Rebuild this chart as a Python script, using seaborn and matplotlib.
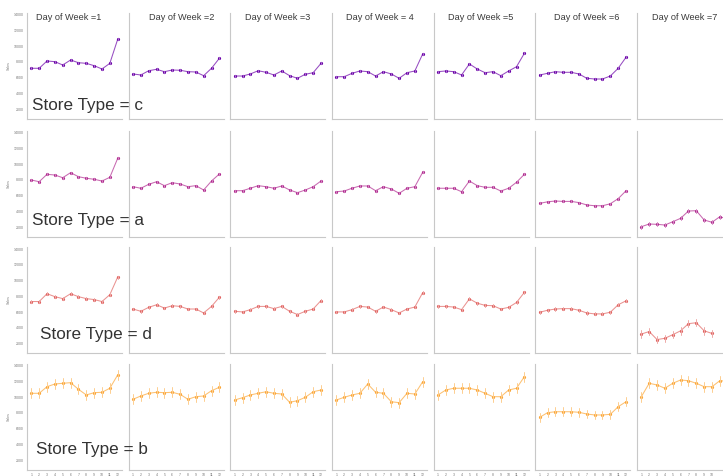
import numpy as np
import pandas as pd
import matplotlib
matplotlib.use("Agg")
import matplotlib.pyplot as plt
import seaborn as sns

# ---- data: mean monthly sales by store type (rows) and day of week (columns) ----
months = list(range(1, 13))
days = [1, 2, 3, 4, 5, 6, 7]
store_types = ["c", "a", "d", "b"]
nan = np.nan

c1 = [7170, 7170, 8100, 8010, 7590, 8220, 7880, 7800, 7500, 7080, 7800, 10850]
c2 = [6450, 6320, 6860, 7040, 6740, 6950, 6920, 6740, 6700, 6230, 7170, 8440]
c3 = [6190, 6190, 6450, 6860, 6660, 6320, 6830, 6230, 5900, 6410, 6610, 7800]
c4 = [6100, 6100, 6530, 6830, 6740, 6190, 6740, 6450, 5900, 6610, 6830, 8990]
c5 = [6740, 6830, 6740, 6320, 7720, 7080, 6610, 6740, 6230, 6830, 7370, 9070]
c6 = [6320, 6530, 6740, 6660, 6660, 6450, 5900, 5810, 5810, 6190, 7170, 8570]
c7 = [nan] * 12

a1 = [7970, 7750, 8690, 8600, 8260, 8900, 8390, 8190, 8060, 7840, 8310, 10720]
a2 = [7120, 6920, 7420, 7750, 7250, 7630, 7460, 7120, 7250, 6700, 7840, 8730]
a3 = [6610, 6610, 6920, 7250, 7120, 6920, 7210, 6700, 6360, 6700, 7120, 7840]
a4 = [6480, 6570, 6920, 7210, 7210, 6610, 7120, 6830, 6280, 6920, 7120, 8950]
a5 = [6920, 6920, 6920, 6480, 7840, 7250, 7040, 7040, 6570, 6920, 7680, 8690]
a6 = [5000, 5200, 5300, 5250, 5250, 5100, 4800, 4700, 4700, 4950, 5600, 6600]
a7 = [2040, 2380, 2340, 2250, 2670, 3100, 4030, 4070, 2890, 2600, 3310, 3000]

d1 = [7330, 7330, 8320, 7950, 7700, 8320, 7950, 7700, 7580, 7330, 8200, 10430]
d2 = [6380, 6090, 6590, 6920, 6500, 6800, 6710, 6380, 6380, 5880, 6710, 7870]
d3 = [6090, 6010, 6300, 6710, 6710, 6430, 6710, 6090, 5680, 6090, 6380, 7460]
d4 = [6010, 6010, 6300, 6710, 6630, 6090, 6630, 6300, 5880, 6380, 6630, 8450]
d5 = [6710, 6710, 6630, 6300, 7670, 7120, 6840, 6800, 6380, 6590, 7210, 8490]
d6 = [5970, 6220, 6380, 6430, 6430, 6220, 5880, 5760, 5760, 5970, 6920, 7420]
d7 = [3200, 3520, 2500, 2660, 3120, 3610, 4520, 4640, 3610, 3280, nan, nan]

b1 = [10470, 10470, 11310, 11650, 11740, 11820, 10980, 10260, 10550, 10600, 11110, 12800]
b2 = [9710, 10130, 10470, 10600, 10550, 10600, 10340, 9710, 10040, 10130, 10800, 11230]
b3 = [9620, 9910, 10260, 10470, 10670, 10470, 10380, 9330, 9530, 9960, 10670, 10890]
b4 = [9620, 9960, 10260, 10470, 11650, 10600, 10470, 9400, 9280, 10470, 10380, 11940]
b5 = [10260, 10890, 11110, 11110, 11110, 10890, 10470, 10040, 10040, 10890, 11110, 12580]
b6 = [7420, 8010, 8130, 8130, 8130, 8060, 7840, 7720, 7720, 7800, 8770, 9400]
b7 = [10040, 11740, 11530, 11110, 11740, 12160, 12070, 11740, 11310, 11310, 12070, 12000]

# half-width of the error bar on each monthly mean, per day of week
err_c = [120, 120, 120, 120, 120, 120, 0]
err_a = [110, 110, 110, 110, 110, 130, 260]
err_d = [200, 180, 180, 180, 180, 200, 480]
err_b = [650, 620, 620, 650, 650, 560, 620]

y_ticks = [2000, 4000, 6000, 8000, 10000, 12000, 14000]

series = {
    "c": ([c1, c2, c3, c4, c5, c6, c7], err_c),
    "a": ([a1, a2, a3, a4, a5, a6, a7], err_a),
    "d": ([d1, d2, d3, d4, d5, d6, d7], err_d),
    "b": ([b1, b2, b3, b4, b5, b6, b7], err_b),
}

# long-form table: each monthly mean is represented by its lower and upper bound
rows = []
for st, (vals, errs) in series.items():
    for day, v, e in zip(days, vals, errs):
        for m, s in zip(months, v):
            if np.isnan(s):
                continue
            rows.append((st, day, m, s - e))
            rows.append((st, day, m, s + e))
df = pd.DataFrame(rows, columns=["StoreType", "DayOfWeek", "Month", "Sales"])

# ---- figure ----
sns.set_theme(style="white")
plt.rcParams["font.family"] = ["Liberation Sans", "DejaVu Sans"]

W, H = 723, 476
fig = plt.figure(figsize=(W / 100, H / 100), dpi=100)
palette = sns.color_palette("plasma", 4)


def lighten(rgb, amount):
    return tuple(ch + (1 - ch) * amount for ch in rgb)


col_left = [27 + i * 101.67 for i in range(7)]
row_bottom = [118.5, 236.5, 353.0, 469.5]
ax_w, ax_h = 95, 106
label_baseline = [110, 225.5, 339, 454]
label_x = [32, 32, 40, 36]
title_dx = [-6, 6, 0, 0, 0, 4, 0]

for r, st in enumerate(store_types):
    dark = palette[r]
    line_col = lighten(dark, 0.3)
    for c, day in enumerate(days):
        ax = fig.add_axes([col_left[c] / W, 1 - row_bottom[r] / H, ax_w / W, ax_h / H])
        sub = df[(df.StoreType == st) & (df.DayOfWeek == day)]
        if len(sub):
            sns.lineplot(
                data=sub, x="Month", y="Sales", ax=ax, color=line_col,
                estimator="mean", errorbar=("pi", 100), err_style="bars",
                marker="o", markersize=2.3, markeredgewidth=0,
                markerfacecolor=dark,
                linewidth=0.75,
                err_kws={"linewidth": 0.7, "ecolor": lighten(dark, 0.45)},
            )
        ax.set_xlim(0.45, 12.55)
        ax.set_ylim(794, 14254)
        ax.set_yticks(y_ticks)
        ax.set_xticks(months)
        ax.set_xlabel("")
        ax.set_ylabel("")
        for side in ("top", "right"):
            ax.spines[side].set_visible(False)
        for side in ("left", "bottom"):
            ax.spines[side].set_color("#c8c8c8")
            ax.spines[side].set_linewidth(0.8)
        ax.tick_params(axis="both", length=1.5, width=0.5, color="#bbbbbb",
                       labelsize=2.5, labelcolor="#777777", pad=0.8)
        if c != 0:
            ax.tick_params(axis="y", labelleft=False)
        else:
            ax.set_ylabel("Sales", fontsize=2.5, color="#777777", labelpad=2)
        if r != len(store_types) - 1:
            ax.tick_params(axis="x", labelbottom=False)
        elif c == len(days) - 1:
            # months beyond the figure edge get no label
            ax.set_xticklabels([str(m) if m <= 10 else "" for m in months])
        if r == 0:
            ax.text(0.5 + title_dx[c] / ax_w, 0.955,
                    f"Day of Week ={day}" if day != 4 else "Day of Week = 4",
                    transform=ax.transAxes, ha="center", va="center",
                    fontsize=6.6, color="#3a3a3a")

    fig.text(label_x[r] / W, 1 - label_baseline[r] / H, f"Store Type = {st}",
             fontsize=12.3, color="#333333", ha="left", va="baseline", zorder=10)

fig.savefig("out.png", dpi=100)
